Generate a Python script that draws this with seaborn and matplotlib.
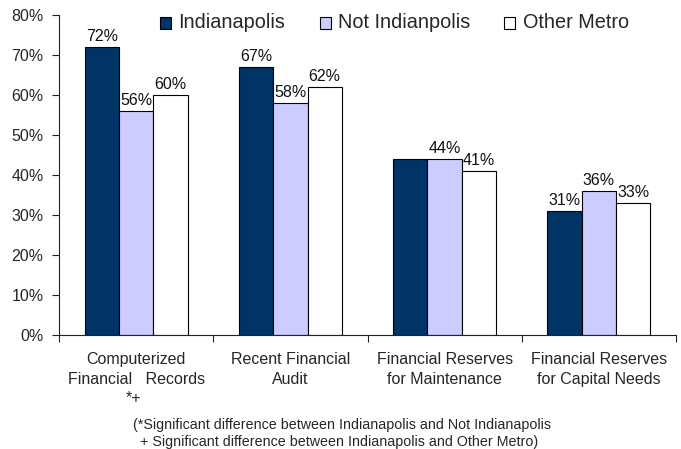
import matplotlib
matplotlib.use("Agg")
import matplotlib.pyplot as plt
from matplotlib.patches import Rectangle
import pandas as pd
import seaborn as sns

# Share of organisations with each financial practice (%)
categories = [
    "Computerized\nFinancial   Records",
    "Recent Financial\nAudit",
    "Financial Reserves\nfor Maintenance",
    "Financial Reserves\nfor Capital Needs",
]
series = ["Indianapolis", "Not Indianpolis", "Other Metro"]
indianapolis = [72, 67, 44, 31]
not_indianapolis = [56, 58, 44, 36]
other_metro = [60, 62, 41, 33]
# which bars carry a value label
show_label = [
    [True, True, False, True],
    [True, True, True, True],
    [True, True, True, True],
]
y_ticks = [0, 10, 20, 30, 40, 50, 60, 70, 80]
colors = ["#003366", "#CCCCFF", "#FFFFFF"]

df = pd.DataFrame({
    "category": categories * 3,
    "group": [s for s in series for _ in categories],
    "value": indianapolis + not_indianapolis + other_metro,
})

sns.set_style("white")
plt.rcParams["font.family"] = ["Liberation Sans", "DejaVu Sans"]

W, H = 681, 449
fig = plt.figure(figsize=(W / 100, H / 100), dpi=100)
ax = fig.add_axes([59 / W, 1 - 335 / H, (676 - 59) / W, (335 - 15) / H])

sns.barplot(
    data=df, x="category", y="value", hue="group",
    order=categories, hue_order=series, palette=colors,
    width=0.668, gap=0, edgecolor="black", linewidth=0.8,
    saturation=1, errorbar=None, legend=False, ax=ax,
)

for container, flags in zip(ax.containers, show_label):
    for bar, flag in zip(container, flags):
        if flag:
            h = bar.get_height()
            ax.annotate(f"{h:.0f}%", (bar.get_x() + bar.get_width() / 2, h),
                        xytext=(0, 2.5), textcoords="offset points",
                        ha="center", va="bottom", fontsize=11.5, color="#111111")

ax.set_xlim(-0.5, len(categories) - 0.5)
ax.set_ylim(0, 80)
ax.set_yticks(y_ticks)
ax.set_yticklabels([f"{t}%" for t in y_ticks], fontsize=11.5)
ax.set_xlabel("")
ax.set_ylabel("")

# category boundary ticks, labels centred between them
ax.set_xticks([i - 0.5 for i in range(len(categories) + 1)])
ax.set_xticklabels([])
ax.set_xticks(range(len(categories)), minor=True)
ax.set_xticklabels(categories, minor=True, fontsize=11.5, linespacing=1.35)
ax.tick_params(axis="x", which="minor", length=0, pad=12.5)
ax.tick_params(axis="x", which="major", direction="out", length=5, width=0.8,
               color="#222222", bottom=True)
ax.tick_params(axis="y", direction="out", length=5, width=0.8,
               color="#222222", left=True, pad=6)

for side in ("top", "right"):
    ax.spines[side].set_visible(False)
for side in ("left", "bottom"):
    ax.spines[side].set_color("#222222")
    ax.spines[side].set_linewidth(0.8)

# legend row: swatch + name for each series
swatch_x = [160, 320, 504]
text_x = [178, 338, 523]
for c, name, sx, tx in zip(colors, series, swatch_x, text_x):
    fig.patches.append(Rectangle((sx / W, 1 - 29 / H), 11 / W, 12 / H,
                                 transform=fig.transFigure, facecolor=c,
                                 edgecolor="black", linewidth=0.8))
    fig.text(tx / W, 1 - 23 / H, name, ha="left", va="center", fontsize=14.3)

fig.text(134 / W, 1 - 398 / H, "*+", ha="center", va="center", fontsize=11.5)
fig.text(133 / W, 1 - 425 / H,
         "(*Significant difference between Indianapolis and Not Indianapolis",
         ha="left", va="center", fontsize=10.25)
fig.text(140 / W, 1 - 442 / H,
         "+ Significant difference between Indianapolis and Other Metro)",
         ha="left", va="center", fontsize=10.25)

fig.savefig("out.png", dpi=100)
